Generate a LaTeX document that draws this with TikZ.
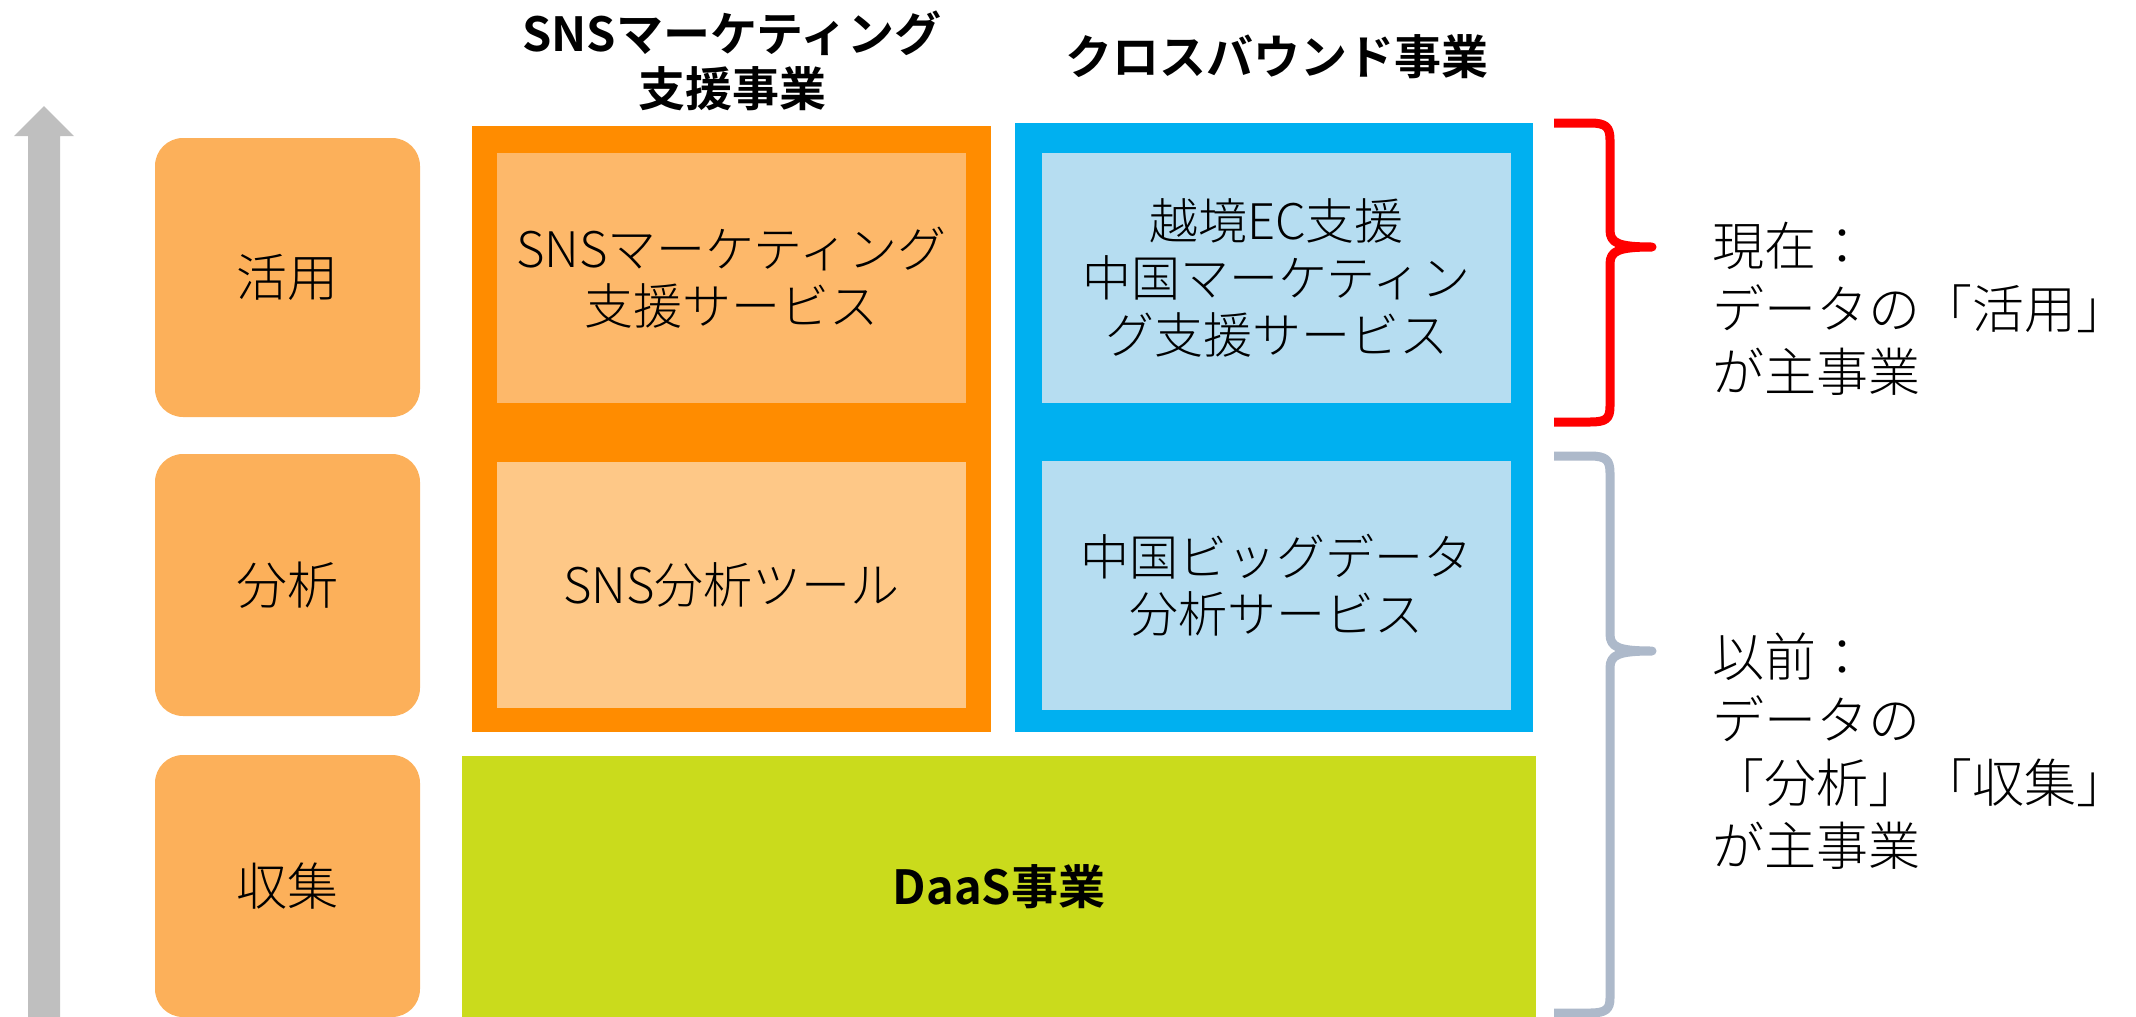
\documentclass[tikz,border=0pt]{standalone}
\usepackage{fontspec}
\IfFontExistsTF{Noto Sans CJK JP Light}
  {\setmainfont{Noto Sans CJK JP Light}[BoldFont={Noto Sans CJK JP Bold}]}
  {\setmainfont{Noto Sans CJK JP}}
\definecolor{arrowgray}{HTML}{BFBFBF}
\definecolor{lvlorange}{HTML}{FCB05A}
\definecolor{snsouter}{HTML}{FF8C00}
\definecolor{snsinA}{HTML}{FDB86A}
\definecolor{snsinB}{HTML}{FEC887}
\definecolor{cbouter}{HTML}{00B0F0}
\definecolor{cbinner}{HTML}{B6DDF1}
\definecolor{daasgreen}{HTML}{CADB1C}
\definecolor{bracegray}{HTML}{ADB9CA}
\newcommand{\rslevel}{\fontsize{51}{57}\selectfont}
\newcommand{\rsbody}{\fontsize{49}{57}\selectfont}
\newcommand{\rshead}{\fontsize{47}{55}\selectfont\bfseries}
\begin{document}
\begin{tikzpicture}[x=1pt,y=-1pt,
  lvlbox/.style={fill=lvlorange, rounded corners=28pt, inner sep=0pt, outer sep=0pt, font=\rslevel},
  rectbox/.style={inner sep=0pt, outer sep=0pt, align=center, font=\rsbody},
  headtext/.style={inner sep=0pt, align=center, font=\rshead},
  sidetext/.style={inner sep=0pt, anchor=west, align=left, font=\fontsize{52}{63}\selectfont},
  bracestroke/.style={line width=9pt, line join=round}]
\useasboundingbox (0,0) rectangle (2136,1017);
% vertical arrow
\fill[arrowgray] (28,1017) -- (28,136) -- (14,136) -- (44,106) -- (74,136) -- (60,136) -- (60,1017) -- cycle;
% level boxes
\node[lvlbox, minimum width=265, minimum height=279] (use) at (287.5,277.5) {活用};
\node[lvlbox, minimum width=265, minimum height=262] (ana) at (287.5,585) {分析};
\node[lvlbox, minimum width=265, minimum height=262] (col) at (287.5,886) {収集};
% SNS business
\node[rectbox, fill=snsouter, minimum width=519, minimum height=606] (snsO) at (731.5,429) {};
\node[rectbox, fill=snsinA, minimum width=469, minimum height=250] (snsA) at (731.5,278) {SNSマーケティング\\支援サービス};
\node[rectbox, fill=snsinB, minimum width=469, minimum height=246] (snsB) at (731.5,585) {SNS分析ツール};
% Crossbound business
\node[rectbox, fill=cbouter, minimum width=518, minimum height=609] (cbO) at (1274,427.5) {};
\node[rectbox, fill=cbinner, minimum width=469, minimum height=250] (cbA) at (1276.5,278) {越境EC支援\\中国マーケティン\\グ支援サービス};
\node[rectbox, fill=cbinner, minimum width=469, minimum height=249] (cbB) at (1276.5,585.5) {中国ビッグデータ\\分析サービス};
% DaaS
\node[rectbox, fill=daasgreen, minimum width=1074, minimum height=261, font=\rshead] (daas) at (999,886.5) {DaaS事業};
% headings
\node[headtext] (snsH) at (732,61) {SNSマーケティング\\支援事業};
\node[headtext] (cbH) at (1277,57) {クロスバウンド事業};
% braces
\draw[red, bracestroke] (1554,123) -- (1590,123) .. controls (1606,123) and (1610,127) .. (1610,140) -- (1610,230) .. controls (1610,243) and (1618,247) .. (1652,247) .. controls (1618,247) and (1610,251) .. (1610,264) -- (1610,406) .. controls (1610,419) and (1606,422) .. (1590,422) -- (1554,422);
\draw[bracegray, bracestroke] (1554,456) -- (1590,456) .. controls (1606,456) and (1610,460) .. (1610,473) -- (1610,634) .. controls (1610,647) and (1618,651) .. (1652,651) .. controls (1618,651) and (1610,655) .. (1610,668) -- (1610,998) .. controls (1610,1009) and (1606,1013) .. (1590,1013) -- (1554,1013);
% side texts
\node[sidetext] (now) at (1712,309) {現在：\\データの「活用」\\が主事業};
\node[sidetext] (past) at (1712,751) {以前：\\データの\\「分析」「収集」\\が主事業};
\end{tikzpicture}
\end{document}
